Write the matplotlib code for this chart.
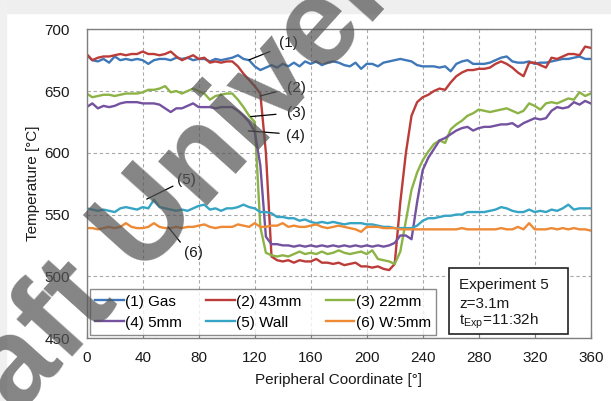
import matplotlib
matplotlib.use("Agg")
import matplotlib.pyplot as plt
from matplotlib.patches import Rectangle
import numpy as np

plt.rcParams['font.family'] = ['Liberation Sans', 'DejaVu Sans']
plt.rcParams['mathtext.fontset'] = 'custom'
plt.rcParams['mathtext.rm'] = 'Liberation Sans'

# ---------------- data ----------------
angle = list(range(0, 361, 4))

gas = [679, 675, 674, 676, 673, 678, 675, 676, 675, 676, 675, 672, 675, 676, 676, 675,
       677, 676, 677, 675, 676, 676, 674, 676, 675, 676, 677, 679, 676, 675, 670, 667,
       669, 671, 669, 672, 670, 673, 670, 674, 672, 674, 671, 673, 674, 673, 671, 670,
       673, 668, 672, 672, 670, 673, 674, 675, 676, 675, 674, 671, 670, 670, 670, 669,
       670, 666, 672, 674, 675, 672, 672, 672, 673, 675, 677, 678, 674, 673, 673, 674,
       672, 673, 673, 674, 675, 676, 676, 677, 678, 676, 676]

mm43 = [680, 675, 677, 678, 678, 679, 680, 679, 680, 680, 682, 680, 680, 679, 680, 682,
        678, 675, 677, 679, 676, 677, 673, 674, 673, 674, 674, 670, 664, 659, 654, 648,
        600, 516, 513, 512, 513, 511, 513, 512, 512, 514, 511, 511, 510, 511, 509, 510,
        511, 508, 508, 507, 508, 506, 505, 510, 560, 600, 630, 641, 645, 647, 650, 652,
        651, 657, 662, 665, 667, 667, 668, 668, 669, 672, 674, 672, 669, 665, 662, 673,
        673, 671, 669, 677, 676, 678, 680, 680, 679, 686, 685]

mm22 = [648, 645, 646, 647, 647, 646, 647, 648, 648, 648, 649, 651, 651, 652, 654, 649,
        650, 648, 650, 652, 650, 648, 643, 646, 647, 648, 648, 643, 637, 630, 625, 540,
        519, 517, 516, 517, 516, 518, 520, 518, 519, 518, 520, 518, 519, 521, 519, 518,
        519, 520, 518, 521, 514, 513, 512, 510, 520, 545, 570, 584, 594, 601, 607, 610,
        608, 619, 623, 626, 630, 632, 635, 634, 633, 634, 635, 636, 634, 632, 634, 640,
        638, 635, 640, 641, 640, 642, 644, 643, 649, 646, 648]

mm5 = [637, 640, 636, 638, 637, 638, 640, 641, 641, 641, 640, 640, 640, 639, 636, 633,
       636, 636, 638, 640, 637, 637, 637, 636, 637, 637, 637, 634, 630, 625, 617, 590,
       532, 526, 526, 525, 525, 524, 525, 524, 525, 524, 525, 524, 525, 524, 525, 524,
       525, 524, 525, 524, 525, 524, 525, 527, 533, 533, 530, 560, 586, 596, 603, 610,
       612, 615, 618, 620, 621, 618, 620, 621, 621, 622, 623, 623, 624, 621, 624, 626,
       628, 627, 628, 634, 637, 636, 637, 641, 639, 642, 640]

wall = [555, 554, 553, 554, 553, 552, 555, 556, 555, 554, 556, 555, 562, 556, 555, 554,
        553, 554, 553, 555, 557, 558, 554, 555, 553, 555, 555, 556, 558, 556, 555, 552,
        552, 551, 548, 548, 547, 547, 545, 546, 544, 543, 544, 543, 544, 543, 542, 543,
        543, 543, 542, 542, 541, 540, 540, 539, 539, 539, 539, 541, 545, 547, 547, 548,
        549, 549, 550, 550, 552, 552, 552, 552, 553, 554, 556, 555, 553, 552, 552, 554,
        552, 553, 552, 554, 553, 555, 558, 554, 555, 555, 555]

w5mm = [539, 539, 538, 539, 540, 539, 540, 543, 540, 539, 539, 540, 543, 540, 539, 539,
        540, 539, 540, 540, 541, 542, 540, 539, 540, 540, 540, 542, 541, 540, 543, 540,
        540, 541, 541, 543, 540, 541, 540, 540, 541, 542, 540, 539, 540, 541, 540, 539,
        538, 536, 540, 540, 540, 539, 539, 539, 538, 538, 538, 538, 538, 538, 538, 538,
        538, 538, 538, 539, 538, 538, 538, 538, 538, 538, 539, 538, 538, 540, 538, 543,
        538, 538, 538, 539, 538, 539, 538, 539, 538, 538, 537]

series_labels = ["(1) Gas", "(2) 43mm", "(3) 22mm", "(4) 5mm", "(5) Wall", "(6) W:5mm"]
series_colors = ["#3f78b9", "#bb3c38", "#8cb346", "#7452a0", "#36a4c4", "#ee8a35"]

x_ticks = [0, 40, 80, 120, 160, 200, 240, 280, 320, 360]
y_ticks = [450, 500, 550, 600, 650, 700]

info_lines = ["Experiment 5", "z=3.1m", "$\\mathregular{t_{Exp}}$=11:32h"]

# ---------------- figure ----------------
fig = plt.figure(figsize=(6.11, 4.01), dpi=100)
fig.patches.append(Rectangle((0, 1 - 13 / 401), 1, 13 / 401, transform=fig.transFigure,
                             color="#efefef", zorder=0))
fig.patches.append(Rectangle((0, 0), 6 / 611, 1, transform=fig.transFigure,
                             color="#f0f0f0", zorder=0))

ax = fig.add_axes([0.1419, 0.1571, 0.8249, 0.7698])

all_series = [gas, mm43, mm22, mm5, wall, w5mm]
lines = []
for vals, lab, col in zip(all_series, series_labels, series_colors):
    ln, = ax.plot(angle, vals, color=col, lw=1.7, label=lab, solid_joinstyle='round')
    lines.append(ln)

ax.set_xlim(0, 360)
ax.set_ylim(450, 700)
ax.set_xticks(x_ticks)
ax.set_yticks(y_ticks)
ax.grid(True, color="#a8a8a8", lw=0.8, linestyle=(0, (3, 2.5)))
ax.set_axisbelow(True)
for sp in ax.spines.values():
    sp.set_color("#7f7f7f")
    sp.set_linewidth(1.0)
ax.tick_params(axis='both', direction='in', length=4, color="#7f7f7f",
               labelsize=11, labelcolor="#1a1a1a")
ax.tick_params(axis='y', length=0, pad=12)
ax.tick_params(axis='x', pad=9)

ax.set_xlabel("Peripheral Coordinate [°]", fontsize=11, color="#1a1a1a", labelpad=6)
ax.set_ylabel("Temperature [°C]", fontsize=11, color="#1a1a1a", labelpad=3)

# legend filled row by row: (1)(2)(3) / (4)(5)(6)
order = [0, 3, 1, 4, 2, 5]
leg = ax.legend(handles=[lines[i] for i in order], ncol=3, loc='lower left',
                bbox_to_anchor=(0.0065, 0.0097),
                borderaxespad=0, fontsize=11, frameon=True, fancybox=False,
                handlelength=1.85, handletextpad=0.1, columnspacing=1.6,
                labelspacing=0.45, borderpad=0.35)
leg.get_frame().set_edgecolor("#6e6e6e")
leg.get_frame().set_linewidth(1.0)

# info box
ax.add_patch(Rectangle((0.7188, 0.013), 0.2362, 0.2138, transform=ax.transAxes,
                       facecolor='white', edgecolor='#222222', lw=1.2, zorder=5))
for txt, yb in zip(info_lines, [0.1603, 0.0988, 0.0421]):
    ax.text(0.7387, yb, txt, transform=ax.transAxes, fontsize=11, va='baseline',
            ha='left', color="#1a1a1a", zorder=6)

# leader-line annotations
ann = [("(1)", (115.9, 675.2), (137.4, 688.9), (0, 0.15), 5),
       ("(2)", (123.8, 646.0), (143.1, 652.8), (0, 0.4), 6),
       ("(3)", (117.1, 629.3), (143.1, 632.0), (0, 0.5), 6),
       ("(4)", (115.4, 617.7), (142.4, 613.7), (0, 0.65), 3),
       ("(5)", (42.9, 562.5), (64.5, 578.0), (0, 0.2), 1),
       ("(6)", (58.3, 539.8), (69.5, 518.8), (0, 0.95), 1)]
for txt, xy, xyt, rp, gap in ann:
    ax.annotate(txt, xy=xy, xytext=xyt, textcoords='data', fontsize=11, color="#1a1a1a",
                ha='left', va='center',
                arrowprops=dict(arrowstyle='-', color='black', lw=0.9,
                                shrinkA=gap, shrinkB=0, relpos=rp))

# diagonal watermark
fig.text(-0.120, -0.290, "Draft University", rotation=48, rotation_mode='anchor',
         ha='left', va='baseline', fontsize=89, fontweight='bold',
         color='#555555', alpha=0.72, zorder=10)

fig.savefig("out.png", dpi=100, facecolor='white')
